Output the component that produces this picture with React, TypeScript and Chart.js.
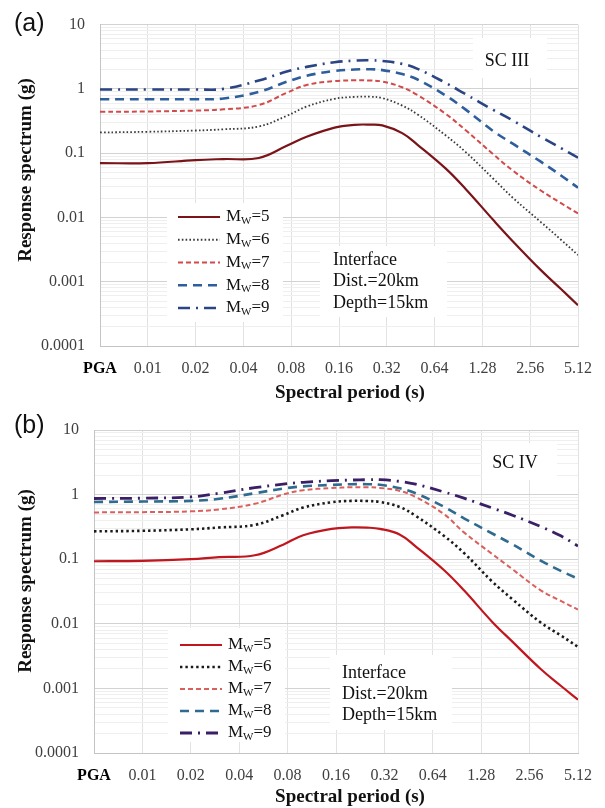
import React, { useEffect, useRef } from "react";
import { Chart, registerables } from "chart.js";
Chart.register(...registerables);

// ---------- data ----------
const periods = [0.005, 0.01, 0.02, 0.03, 0.05, 0.075, 0.1, 0.15, 0.2, 0.25, 0.3, 0.4, 0.5, 0.75, 1.0, 1.5, 2.0, 3.0, 4.0, 5.12];
const xTickValues = [0.005, 0.01, 0.02, 0.04, 0.08, 0.16, 0.32, 0.64, 1.28, 2.56, 5.12];
const xTickLabels = ["PGA", "0.01", "0.02", "0.04", "0.08", "0.16", "0.32", "0.64", "1.28", "2.56", "5.12"];
const yMajorTicks = [0.0001, 0.001, 0.01, 0.1, 1, 10];
const yTickLabels = ["0.0001", "0.001", "0.01", "0.1", "1", "10"];
const magnitudes = ["5", "6", "7", "8", "9"];

// (a) SC III
const scIII_Mw5 = [0.070, 0.070, 0.078, 0.081, 0.084, 0.13, 0.18, 0.25, 0.276, 0.278, 0.27, 0.205, 0.135, 0.058, 0.028, 0.0091, 0.0042, 0.0015, 0.00077, 0.00043];
const scIII_Mw6 = [0.21, 0.215, 0.225, 0.235, 0.26, 0.38, 0.53, 0.7, 0.75, 0.755, 0.72, 0.55, 0.40, 0.19, 0.105, 0.04, 0.02, 0.0084, 0.0045, 0.0026];
const scIII_Mw7 = [0.44, 0.445, 0.46, 0.48, 0.56, 0.87, 1.15, 1.32, 1.36, 1.35, 1.3, 1.06, 0.80, 0.41, 0.23, 0.096, 0.053, 0.026, 0.0167, 0.0115];
const scIII_Mw8 = [0.69, 0.69, 0.69, 0.71, 0.9, 1.29, 1.6, 1.9, 2.0, 2.02, 1.96, 1.7, 1.4, 0.79, 0.48, 0.22, 0.139, 0.073, 0.045, 0.029];
const scIII_Mw9 = [0.98, 0.98, 0.98, 1.0, 1.35, 1.86, 2.2, 2.6, 2.75, 2.78, 2.72, 2.45, 2.05, 1.24, 0.83, 0.47, 0.32, 0.178, 0.12, 0.085];

// (b) SC IV
const scIV_Mw5 = [0.093, 0.094, 0.1, 0.108, 0.115, 0.168, 0.235, 0.295, 0.31, 0.308, 0.295, 0.24, 0.158, 0.068, 0.033, 0.0107, 0.0053, 0.002, 0.0011, 0.00067];
const scIV_Mw6 = [0.27, 0.275, 0.29, 0.31, 0.34, 0.48, 0.63, 0.76, 0.8, 0.795, 0.77, 0.64, 0.47, 0.23, 0.125, 0.045, 0.024, 0.0105, 0.0066, 0.0044];
const scIV_Mw7 = [0.53, 0.535, 0.55, 0.59, 0.72, 1.0, 1.17, 1.26, 1.3, 1.3, 1.27, 1.14, 0.92, 0.5, 0.26, 0.12, 0.07, 0.033, 0.0226, 0.0166];
const scIV_Mw8 = [0.77, 0.78, 0.8, 0.86, 1.05, 1.24, 1.34, 1.41, 1.45, 1.45, 1.42, 1.25, 1.05, 0.65, 0.43, 0.25, 0.17, 0.095, 0.066, 0.05];
const scIV_Mw9 = [0.87, 0.88, 0.92, 1.05, 1.28, 1.45, 1.55, 1.64, 1.68, 1.7, 1.7, 1.6, 1.45, 1.1, 0.88, 0.62, 0.48, 0.32, 0.23, 0.16];

// ---------- styles ----------
const SERIF = "'Liberation Serif', 'Times New Roman', serif";
const SANS = "'Liberation Sans', Arial, sans-serif";

const stylesA = [
  { color: "#7a1418", width: 2.2, dash: [] as number[] },
  { color: "#3a3a3a", width: 1.8, dash: [1.6, 2.2] },
  { color: "#d24a4a", width: 2, dash: [5, 3] },
  { color: "#2e5e9c", width: 2.6, dash: [9, 6] },
  { color: "#2b4584", width: 2.6, dash: [12, 6, 2, 6] },
];
const stylesB = [
  { color: "#c0161e", width: 2.2, dash: [] as number[] },
  { color: "#1a1a1a", width: 2.6, dash: [2.4, 3] },
  { color: "#d9605c", width: 2, dash: [5, 3] },
  { color: "#2e6b8f", width: 2.6, dash: [9, 6] },
  { color: "#3a1f66", width: 2.8, dash: [12, 6, 2, 6] },
];

const panelA = {
  series: [scIII_Mw5, scIII_Mw6, scIII_Mw7, scIII_Mw8, scIII_Mw9],
  styles: stylesA,
  padTop: 22, padRight: 26, yWidth: 100, xHeight: 58,
  label: "(a)", labelX: 14, labelY: 24,
  sc: "SC III", scX: 507, scY: 61, scBox: [473, 38, 74, 40],
  legX1: 178, legX2: 220, legTextX: 226, legY0: 217, legDY: 22.75, legBox: [167, 203, 116, 119],
  annX: 333, annY0: 260, annDY: 21.5, annBox: [320, 246, 127, 71],
  yTitleX: 26, yTitleY: 170, xTitleX: 350, xTitleY: 393,
};
const panelB = {
  series: [scIV_Mw5, scIV_Mw6, scIV_Mw7, scIV_Mw8, scIV_Mw9],
  styles: stylesB,
  padTop: 26, padRight: 25, yWidth: 94, xHeight: 55,
  label: "(b)", labelX: 14, labelY: 22.5,
  sc: "SC IV", scX: 515, scY: 59, scBox: [482, 39, 75, 37],
  legX1: 180, legX2: 222, legTextX: 228, legY0: 241, legDY: 22, legBox: [168, 224, 117, 114],
  annX: 342, annY0: 269, annDY: 21, annBox: [330, 251, 122, 75],
  yTitleX: 26, yTitleY: 177, xTitleX: 350, xTitleY: 393,
};

const annotationLines = ["Interface", "Dist.=20km", "Depth=15km"];

function isMajor(v: number) {
  const l = Math.log10(v);
  return Math.abs(l - Math.round(l)) < 1e-9;
}
const yAllTicks: number[] = [];
for (let e = -4; e <= 0; e++) {
  for (let k = 1; k <= 9; k++) yAllTicks.push(k * Math.pow(10, e));
}
yAllTicks.push(10);

function buildConfig(p: any): any {
  const datasets = p.series.map((vals: number[], i: number) => ({
    label: "Mw=" + magnitudes[i],
    data: periods.map((t, j) => ({ x: t, y: vals[j] })),
    borderColor: p.styles[i].color,
    borderWidth: p.styles[i].width,
    borderDash: p.styles[i].dash,
    pointRadius: 0,
    fill: false,
    tension: 0.4,
  }));

  const deco = {
    id: "deco",
    beforeDatasetsDraw(chart: any) {
      const ctx = chart.ctx;
      ctx.save();
      ctx.fillStyle = "#ffffff";
      for (const b of [p.legBox, p.annBox, p.scBox]) ctx.fillRect(b[0], b[1], b[2], b[3]);
      ctx.restore();
    },
    afterDatasetsDraw(chart: any) {
      const ctx = chart.ctx;
      ctx.save();
      // legend
      for (let i = 0; i < magnitudes.length; i++) {
        const y = p.legY0 + i * p.legDY;
        const s = p.styles[i];
        ctx.strokeStyle = s.color;
        ctx.lineWidth = s.width;
        ctx.setLineDash(s.dash);
        ctx.beginPath();
        ctx.moveTo(p.legX1, y);
        ctx.lineTo(p.legX2, y);
        ctx.stroke();
        ctx.setLineDash([]);
        ctx.fillStyle = "#111";
        ctx.textBaseline = "middle";
        ctx.textAlign = "left";
        let x = p.legTextX;
        ctx.font = `17px ${SERIF}`;
        ctx.fillText("M", x, y);
        x += ctx.measureText("M").width;
        ctx.font = `11px ${SERIF}`;
        ctx.fillText("W", x, y + 4);
        x += ctx.measureText("W").width;
        ctx.font = `17px ${SERIF}`;
        ctx.fillText("=" + magnitudes[i], x, y);
      }
      // annotation
      ctx.fillStyle = "#111";
      ctx.font = `18px ${SERIF}`;
      annotationLines.forEach((t, i) => ctx.fillText(t, p.annX, p.annY0 + i * p.annDY));
      ctx.textAlign = "center";
      ctx.fillText(p.sc, p.scX, p.scY);
      // panel label
      ctx.textAlign = "left";
      ctx.font = `25px ${SANS}`;
      ctx.fillStyle = "#111";
      ctx.fillText(p.label, p.labelX, p.labelY);
      // axis titles
      ctx.font = `bold 19px ${SERIF}`;
      ctx.textAlign = "center";
      ctx.fillText("Spectral period (s)", p.xTitleX, p.xTitleY);
      ctx.translate(p.yTitleX, p.yTitleY);
      ctx.rotate(-Math.PI / 2);
      ctx.fillText("Response spectrum (g)", 0, 0);
      ctx.restore();
    },
  };

  return {
    type: "line",
    data: { datasets },
    plugins: [deco],
    options: {
      animation: false,
      responsive: false,
      events: [],
      layout: { padding: { top: p.padTop, right: p.padRight, left: 0, bottom: 0 } },
      plugins: { legend: { display: false }, tooltip: { enabled: false }, title: { display: false } },
      scales: {
        x: {
          type: "logarithmic",
          min: 0.005,
          max: 5.12,
          afterBuildTicks: (s: any) => {
            s.ticks = xTickValues.map((v) => ({ value: v }));
          },
          afterFit: (s: any) => {
            s.height = p.xHeight;
          },
          ticks: {
            autoSkip: false,
            maxRotation: 0,
            minRotation: 0,
            padding: 13,
            callback: (_v: any, i: number) => xTickLabels[i],
            font: (c: any) =>
              c.index === 0
                ? { family: SERIF, size: 16, weight: "bold" }
                : { family: SERIF, size: 16, weight: "normal" },
            color: (c: any) => (c.index === 0 ? "#000" : "#404040"),
          },
          grid: { color: "#e2e2e2", drawTicks: false, lineWidth: 1 },
          border: { display: true, color: "#c4c4c4" },
        },
        y: {
          type: "logarithmic",
          min: 0.0001,
          max: 10,
          afterBuildTicks: (s: any) => {
            s.ticks = yAllTicks.map((v) => ({ value: v, major: isMajor(v) }));
          },
          afterFit: (s: any) => {
            s.width = p.yWidth;
          },
          ticks: {
            autoSkip: false,
            padding: 15,
            callback: (v: any) => {
              const k = yMajorTicks.findIndex((m) => Math.abs(m - v) / m < 1e-6);
              return k >= 0 ? yTickLabels[k] : "";
            },
            font: { family: SERIF, size: 16 },
            color: "#404040",
          },
          grid: {
            drawTicks: false,
            lineWidth: 1,
            color: (c: any) => (c.tick && isMajor(c.tick.value) ? "#d2d2d2" : "#efefef"),
          },
          border: { display: true, color: "#c4c4c4" },
        },
      },
    },
  };
}

function ChartPanel({ panel }: { panel: any }) {
  const ref = useRef<HTMLCanvasElement>(null);
  useEffect(() => {
    if (!ref.current) return;
    const chart = new Chart(ref.current, buildConfig(panel));
    return () => chart.destroy();
  }, [panel]);
  return <canvas ref={ref} width={605} height={404} style={{ display: "block", width: 605, height: 404 }} />;
}

export default function App() {
  useEffect(() => {
    document.body.style.margin = "0";
    document.body.style.background = "#ffffff";
  }, []);
  return (
    <div style={{ width: 605, height: 808, background: "#ffffff" }}>
      <ChartPanel panel={panelA} />
      <ChartPanel panel={panelB} />
    </div>
  );
}
